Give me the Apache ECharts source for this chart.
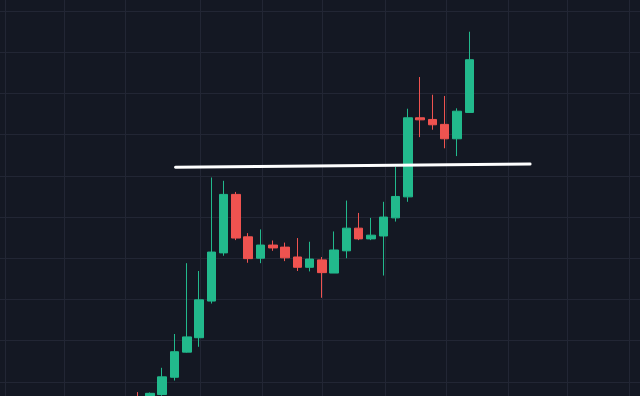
<!DOCTYPE html>
<html>
<head>
<meta charset="utf-8">
<script src="https://cdn.jsdelivr.net/npm/echarts@6/dist/echarts.min.js"></script>
<style>html,body{margin:0;padding:0;background:#141823;}#c{width:640px;height:396px;}</style>
</head>
<body>
<div id="c"></div>
<script>
// Candle index (time slot) of each bar
const candleIdx = [0,1,2,3,4,5,6,7,8,9,10,11,12,13,14,15,16,17,18,19,20,21,22,23,24,25,26,27];
const opens  = [96.3, 96.1, 96.9, 101.1, 107.2, 110.7, 119.6, 131.3, 145.5, 135.2, 130.0, 133.2, 132.7, 130.3, 127.8, 129.6, 126.4, 131.8, 137.3, 134.7, 135.4, 139.8, 144.9, 164.1, 163.7, 162.5, 159.0, 165.4];
const closes = [95.6, 97.2, 101.2, 107.3, 110.9, 119.9, 131.5, 145.5, 134.9, 129.9, 133.2, 132.5, 130.1, 127.8, 129.8, 126.5, 132.0, 137.3, 134.7, 135.6, 140.0, 145.0, 164.1, 163.6, 162.4, 159.0, 165.7, 178.2];
const lows   = [95.1, 95.6, 96.6, 100.3, 107.1, 108.5, 119.0, 130.6, 134.4, 128.9, 128.8, 131.8, 129.3, 126.9, 126.8, 120.4, 126.4, 130.0, 134.4, 134.4, 125.8, 138.9, 143.7, 159.4, 161.2, 156.7, 154.8, 165.3];
const highs  = [97.5, 97.4, 103.4, 111.6, 128.8, 126.9, 149.6, 148.8, 146.1, 136.1, 137.0, 134.3, 133.8, 134.9, 134.0, 130.3, 136.5, 144.0, 141.0, 139.8, 143.7, 152.2, 166.3, 174.0, 169.7, 169.4, 166.4, 185.0];
// Visible window
const xRange = [-11.21, 40.9];
const yRange = [96.55, 192.7];
// Grid lines
const vGridIdx = [-10.8, -6, -1, 5.07, 10.12, 15, 20.14, 25.1, 30.15, 35, 40];
const hGridVals = [100, 110, 120, 130, 140, 150, 160, 170, 180, 190];
// Resistance line endpoints [candle index, price]
const levelLine = [[3.08, 152.1], [31.95, 152.9]];

const candleData = candleIdx.map((x, k) => [x, opens[k], closes[k], lows[k], highs[k]]);
const gridLines = vGridIdx.map(v => ({xAxis: v})).concat(hGridVals.map(v => ({yAxis: v})));

const chart = echarts.init(document.getElementById('c'), null, {renderer: 'canvas'});
chart.setOption({
  animation: false,
  backgroundColor: '#141823',
  grid: {left: 0, right: 0, top: 0, bottom: 0},
  xAxis: {
    type: 'value', min: xRange[0], max: xRange[1], show: false, splitLine: {show: false}
  },
  yAxis: {
    type: 'value', min: yRange[0], max: yRange[1], show: false, splitLine: {show: false}
  },
  series: [{
    type: 'line', data: [], silent: true, z: 0,
    markLine: {
      silent: true, z: 0, symbol: ['none', 'none'], label: {show: false},
      lineStyle: {color: '#222634', width: 1, type: 'solid'},
      emphasis: {disabled: true},
      data: gridLines
    }
  }, {
    type: 'candlestick',
    data: candleData,
    barWidth: 9,
    z: 2,
    itemStyle: {color: '#22b98c', color0: '#ef5350', borderColor: '#22b98c', borderColor0: '#ef5350', borderWidth: 1}
  }, {
    type: 'line', data: levelLine, symbol: 'none',
    lineStyle: {color: '#ffffff', width: 3, cap: 'round'}, z: 5
  }]
});
</script>
</body>
</html>
